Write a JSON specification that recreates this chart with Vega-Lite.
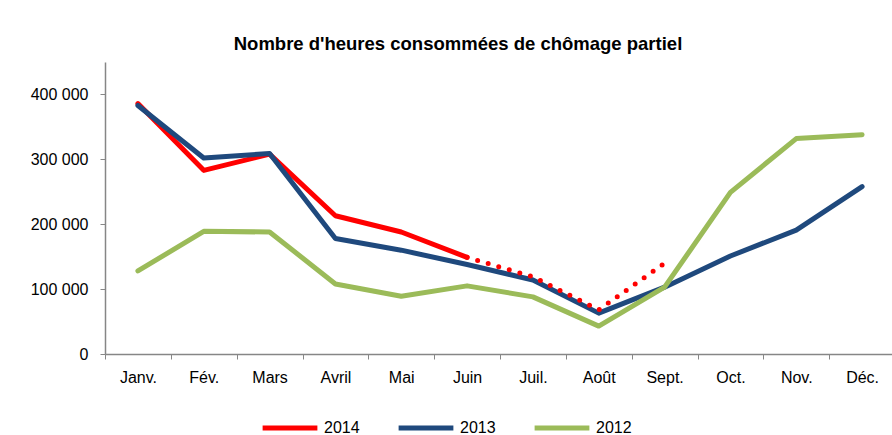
{
  "$schema": "https://vega.github.io/schema/vega-lite/v6.json",
  "width": 790,
  "height": 292,
  "autosize": "none",
  "padding": {"left": 105, "top": 62, "right": 0, "bottom": 81},
  "background": "white",
  "title": {
    "text": "Nombre d'heures consommées de chômage partiel",
    "font": "Liberation Sans",
    "fontSize": 18.5,
    "fontWeight": "bold",
    "color": "black",
    "anchor": "middle",
    "dx": -42,
    "offset": 9
  },
  "data": {
    "values": [
      {"mois": "Janv.", "serie": "2014", "part": "solid", "v": 386000},
      {"mois": "Fév.", "serie": "2014", "part": "solid", "v": 283000},
      {"mois": "Mars", "serie": "2014", "part": "solid", "v": 308000},
      {"mois": "Avril", "serie": "2014", "part": "solid", "v": 213000},
      {"mois": "Mai", "serie": "2014", "part": "solid", "v": 188000},
      {"mois": "Juin", "serie": "2014", "part": "solid", "v": 149000},
      {"mois": "Juin", "serie": "2014", "part": "dotted", "v": 149000},
      {"mois": "Juil.", "serie": "2014", "part": "dotted", "v": 119000},
      {"mois": "Août", "serie": "2014", "part": "dotted", "v": 68000},
      {"mois": "Sept.", "serie": "2014", "part": "dotted", "v": 140000},
      {"mois": "Janv.", "serie": "2013", "part": "solid", "v": 383000},
      {"mois": "Fév.", "serie": "2013", "part": "solid", "v": 302000},
      {"mois": "Mars", "serie": "2013", "part": "solid", "v": 309000},
      {"mois": "Avril", "serie": "2013", "part": "solid", "v": 178000},
      {"mois": "Mai", "serie": "2013", "part": "solid", "v": 160000},
      {"mois": "Juin", "serie": "2013", "part": "solid", "v": 138000},
      {"mois": "Juil.", "serie": "2013", "part": "solid", "v": 114000},
      {"mois": "Août", "serie": "2013", "part": "solid", "v": 63000},
      {"mois": "Sept.", "serie": "2013", "part": "solid", "v": 103000},
      {"mois": "Oct.", "serie": "2013", "part": "solid", "v": 151000},
      {"mois": "Nov.", "serie": "2013", "part": "solid", "v": 191000},
      {"mois": "Déc.", "serie": "2013", "part": "solid", "v": 258000},
      {"mois": "Janv.", "serie": "2012", "part": "solid", "v": 128000},
      {"mois": "Fév.", "serie": "2012", "part": "solid", "v": 189000},
      {"mois": "Mars", "serie": "2012", "part": "solid", "v": 188000},
      {"mois": "Avril", "serie": "2012", "part": "solid", "v": 108000},
      {"mois": "Mai", "serie": "2012", "part": "solid", "v": 89000},
      {"mois": "Juin", "serie": "2012", "part": "solid", "v": 105000},
      {"mois": "Juil.", "serie": "2012", "part": "solid", "v": 88000},
      {"mois": "Août", "serie": "2012", "part": "solid", "v": 43000},
      {"mois": "Sept.", "serie": "2012", "part": "solid", "v": 103000},
      {"mois": "Oct.", "serie": "2012", "part": "solid", "v": 249000},
      {"mois": "Nov.", "serie": "2012", "part": "solid", "v": 332000},
      {"mois": "Déc.", "serie": "2012", "part": "solid", "v": 338000}
    ]
  },
  "encoding": {
    "x": {
      "field": "mois",
      "type": "ordinal",
      "sort": ["Janv.", "Fév.", "Mars", "Avril", "Mai", "Juin", "Juil.", "Août", "Sept.", "Oct.", "Nov.", "Déc."],
      "scale": {"type": "band", "paddingInner": 0, "paddingOuter": 0},
      "axis": {
        "title": null,
        "labelAngle": 0,
        "tickBand": "extent",
        "tickSize": 5,
        "labelPadding": 10,
        "domainColor": "#868686",
        "tickColor": "#868686",
        "domainWidth": 1.5,
        "labelFont": "Liberation Sans",
        "labelFontSize": 16,
        "labelColor": "black"
      }
    },
    "y": {
      "field": "v",
      "type": "quantitative",
      "scale": {"domain": [0, 450000], "nice": false},
      "axis": {
        "title": null,
        "values": [0, 100000, 200000, 300000, 400000],
        "labelExpr": "replace(format(datum.value, ','), ',', ' ')",
        "grid": false,
        "tickSize": 5,
        "labelPadding": 12,
        "domainColor": "#868686",
        "tickColor": "#868686",
        "domainWidth": 1.5,
        "labelFont": "Liberation Sans",
        "labelFontSize": 16,
        "labelColor": "black"
      }
    }
  },
  "layer": [
    {
      "transform": [{"filter": "datum.part == 'solid'"}],
      "mark": {"type": "line", "strokeWidth": 5, "strokeCap": "round", "strokeJoin": "round"},
      "encoding": {
        "color": {
          "field": "serie",
          "type": "nominal",
          "sort": ["2014", "2013", "2012"],
          "scale": {"domain": ["2014", "2013", "2012"], "range": ["#FF0000", "#1F497D", "#9BBB59"]},
          "legend": {
            "title": null,
            "orient": "none",
            "direction": "horizontal",
            "legendX": 155,
            "legendY": 336,
            "symbolType": "stroke",
            "symbolStrokeWidth": 5,
            "symbolSize": 3000,
            "labelFont": "Liberation Sans",
            "labelFontSize": 16,
            "labelColor": "black",
            "labelOffset": 4,
            "columnPadding": 28
          }
        }
      }
    },
    {
      "transform": [{"filter": "datum.part == 'dotted'"}],
      "mark": {"type": "line", "strokeWidth": 5, "strokeCap": "round", "strokeDash": [0, 11], "color": "#FF0000"},
      "encoding": {}
    }
  ],
  "config": {
    "view": {"stroke": null}
  }
}
